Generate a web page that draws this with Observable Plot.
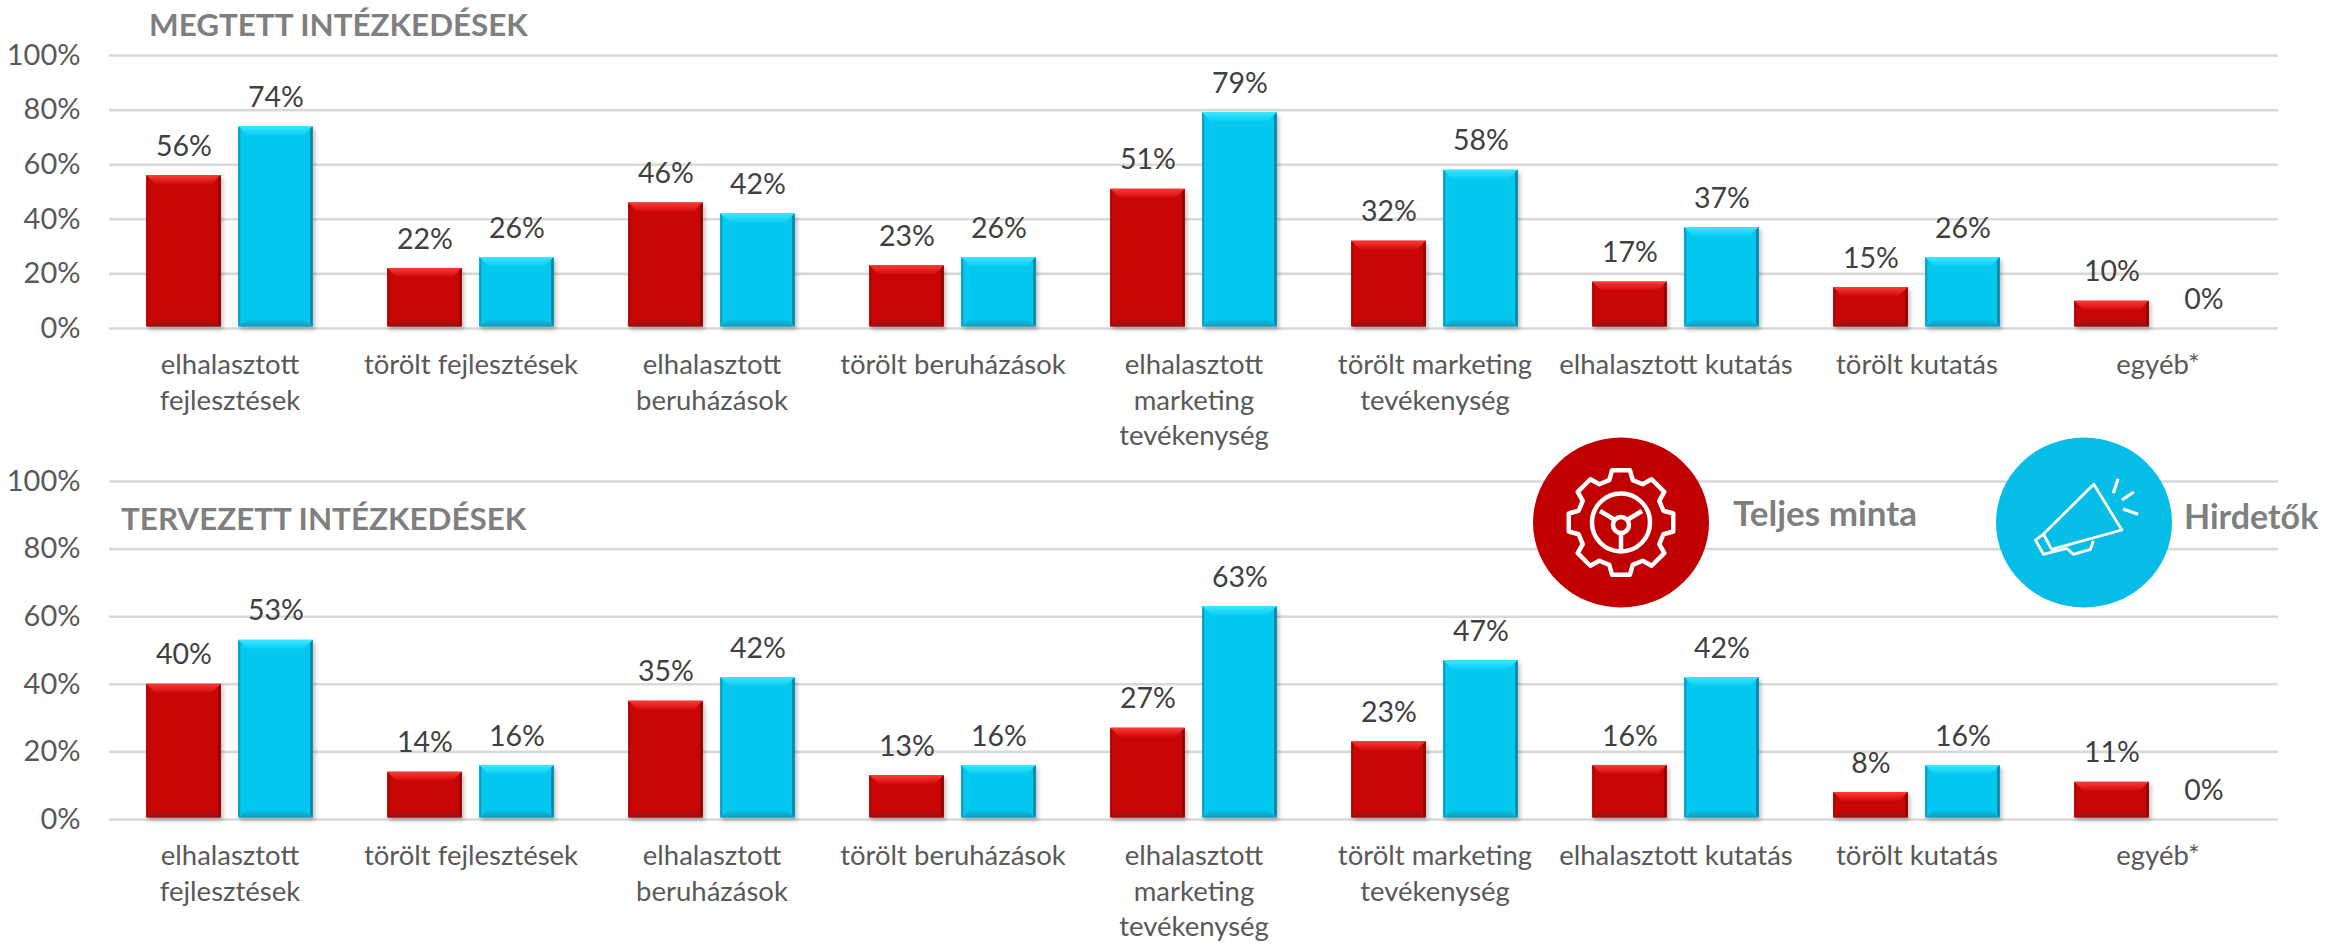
<!DOCTYPE html>
<html><head><meta charset="utf-8">
<script src="https://cdn.jsdelivr.net/npm/d3@7"></script>
<script src="https://cdn.jsdelivr.net/npm/@observablehq/plot@0.6"></script>
<style>
html,body{margin:0;padding:0;background:#fff;overflow:hidden}
#page{position:relative;width:2348px;height:944px;font-family:Lato,sans-serif}
#page>div{position:absolute;left:0}
#page>div svg{display:block;overflow:visible}
#overlay{position:absolute;left:0;top:0}
</style></head><body>
<svg width="0" height="0" style="position:absolute"><defs>
<linearGradient id="topRed" x1="0" y1="0" x2="0" y2="1"><stop offset="0" stop-color="#fa3a3a"/><stop offset="1" stop-color="#d40a0a"/></linearGradient>
<linearGradient id="topBlue" x1="0" y1="0" x2="0" y2="1"><stop offset="0" stop-color="#3ce6ff"/><stop offset="1" stop-color="#0aceF4"/></linearGradient>
<linearGradient id="botRed" x1="0" y1="0" x2="0" y2="1"><stop offset="0" stop-color="#c40606"/><stop offset="1" stop-color="#981010"/></linearGradient>
<linearGradient id="botBlue" x1="0" y1="0" x2="0" y2="1"><stop offset="0" stop-color="#06c2ea"/><stop offset="1" stop-color="#129cba"/></linearGradient>
</defs></svg>
<div id="page">
<div id="c1" style="top:0"></div>
<div id="c2" style="top:440px"></div>
<svg id="overlay" width="2348" height="944"></svg>
</div>
<script>
const categories = ["elhalasztott\nfejlesztések","törölt fejlesztések","elhalasztott\nberuházások","törölt beruházások","elhalasztott\nmarketing\ntevékenység","törölt marketing\ntevékenység","elhalasztott kutatás","törölt kutatás","egyéb*"];
const seriesNames = ["Teljes minta","Hirdetők"];
const seriesColors = ["#c90606","#04c8f0"];
const megtettTeljes = [56,22,46,23,51,32,17,15,10];
const megtettHirdetok = [74,26,42,26,79,58,37,26,0];
const tervezettTeljes = [40,14,35,13,27,23,16,8,11];
const tervezettHirdetok = [53,16,42,16,63,47,42,16,0];
const yTicks = [0,20,40,60,80,100];

const bevel = {
  "#c90606": {top:"url(#topRed)", bottom:"url(#botRed)", left:"#a80404", right:"#8f0303"},
  "#04c8f0": {top:"url(#topBlue)", bottom:"url(#botBlue)", left:"#0a9cbc", right:"#0a86a4"}
};
function bevelRender(index, scales, values, dimensions, context, next) {
  const g = next(index, scales, values, dimensions, context);
  const NS = "http://www.w3.org/2000/svg";
  for (const r of Array.from(g.querySelectorAll("rect"))) {
    const x=+r.getAttribute("x"), y=+r.getAttribute("y"), w=+r.getAttribute("width"), h=+r.getAttribute("height");
    const c = bevel[r.getAttribute("fill")];
    if (!c || h < 1) { if (h < 1) r.remove(); continue; }
    r.style.filter = "drop-shadow(2px 3px 2px rgba(0,0,0,.28))";
    const d = Math.min(9, h/2), sl = 2, sr = 2.6;
    const polys = [
      [c.top, [[x,y],[x+w,y],[x+w-d,y+d],[x+d,y+d]]],
      [c.bottom, [[x,y+h],[x+w,y+h],[x+w-d,y+h-d*0.8],[x+d,y+h-d*0.8]]],
      [c.left, [[x,y],[x+sl,y+d*0.3],[x+sl,y+h-d*0.3],[x,y+h]]],
      [c.right, [[x+w,y],[x+w-sr,y+d*0.3],[x+w-sr,y+h-d*0.3],[x+w,y+h]]]
    ];
    for (const [fill, pts] of polys) {
      const p = document.createElementNS(NS,"polygon");
      p.setAttribute("points", pts.map(q=>q.join(",")).join(" "));
      p.setAttribute("fill", fill);
      g.appendChild(p);
    }
  }
  return g;
}

function makeChart(teljes, hirdetok, height, marginTop, marginBottom) {
  const rows = categories.flatMap((c,i)=>[
    {category:c, series:seriesNames[0], value:teljes[i]},
    {category:c, series:seriesNames[1], value:hirdetok[i]}
  ]);
  return Plot.plot({
    width:2348, height, marginTop, marginBottom, marginLeft:109, marginRight:70,
    style:{fontFamily:"Lato, sans-serif", background:"transparent", overflow:"visible"},
    fx:{domain:categories, padding:0, label:null},
    x:{domain:seriesNames, paddingInner:0.19, paddingOuter:0.405, round:false, axis:null},
    y:{domain:[0,100], label:null},
    color:{domain:seriesNames, range:seriesColors},
    marks:[
      Plot.gridY(yTicks,{stroke:"#d9d9d9", strokeOpacity:1, strokeWidth:2.6}),
      Plot.axisY(yTicks,{anchor:"left", tickSize:0, tickPadding:29, tickFormat:d=>d+"%", fontSize:29, fill:"#595959", label:null}),
      Plot.axisFx({anchor:"bottom", tickSize:0, tickPadding:20.5, fontSize:27.5, fill:"#595959", lineHeight:1.29, label:null, lineAnchor:"top"}),
      Plot.barY(rows,{fx:"category", x:"series", y:"value", fill:"series", insetBottom:1.5, render:bevelRender}),
      Plot.text(rows,{fx:"category", x:"series", y:"value", text:d=>d.value+"%", dy:-29, fontSize:28.5, fill:"#404040"})
    ]
  });
}
document.getElementById("c1").appendChild(makeChart(megtettTeljes, megtettHirdetok, 440, 55, 112));
document.getElementById("c2").appendChild(makeChart(tervezettTeljes, tervezettHirdetok, 504, 41, 125));

// Overlay: panel titles and the icon legend
const ov = d3.select("#overlay");
const boldText = (t,x,y,s)=>ov.append("text").attr("x",x).attr("y",y).attr("dominant-baseline","central")
  .attr("font-family","Lato, sans-serif").attr("font-weight",700).attr("font-size",s).attr("fill","#7f7f7f").text(t);
boldText("MEGTETT INTÉZKEDÉSEK",149,24,31.4);
boldText("TERVEZETT INTÉZKEDÉSEK",121,518,31.4);

// red gear badge
ov.append("ellipse").attr("cx",1621).attr("cy",522.5).attr("rx",88).attr("ry",85).attr("fill","#c00000");
const gearPts=[]; const R=53, r=44;
for(let k=0;k<8;k++){const a=k*Math.PI/4-Math.PI/2, o=0.17, n=0.27;
  gearPts.push([a-n,r],[a-o,R],[a+o,R],[a+n,r]);}
const gear=gearPts.map(([a,q])=>[1621+q*Math.cos(a),522.5+q*Math.sin(a)].join(",")).join(" ");
const wi=ov.append("g").attr("fill","none").attr("stroke","#fff").attr("stroke-width",4.5).attr("stroke-linejoin","round");
wi.append("polygon").attr("points",gear);
wi.append("circle").attr("cx",1621).attr("cy",522.5).attr("r",29);
wi.append("ellipse").attr("cx",1621).attr("cy",525).attr("rx",8).attr("ry",8);
wi.append("path").attr("d","M1600 511L1615 520M1642 511L1627 520M1621 533V551");

// blue megaphone badge
ov.append("ellipse").attr("cx",2084).attr("cy",522.5).attr("rx",88).attr("ry",85).attr("fill","#05bde6");
const mi=ov.append("g").attr("fill","none").attr("stroke","#fff").attr("stroke-width",2.8).attr("stroke-linejoin","round");
mi.append("path").attr("d","M2093.8 484.3L2121.9 530L2051.6 549.3L2043.5 534Z");
mi.append("path").attr("d","M2043.5 534L2035.4 540L2043.5 554.3L2066.8 548.3");
mi.append("path").attr("d","M2066.8 548.3L2073.2 554.3L2090.5 549.3L2093.3 540.7");
mi.append("path").attr("stroke-width",3.2).attr("d","M2118.1 478.7L2113.3 493.3M2133.8 492L2121.9 500M2123 509L2138.1 514.3");

boldText("Teljes minta",1733,512,35);
boldText("Hirdetők",2184,515,34);
</script>
</body></html>
